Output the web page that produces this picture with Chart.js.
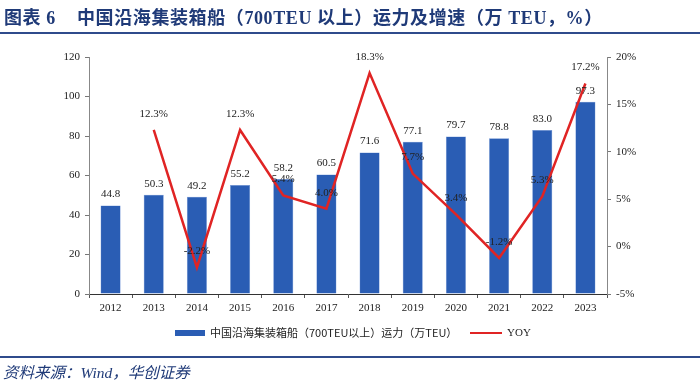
<!DOCTYPE html>
<html><head><meta charset="utf-8">
<script src="https://cdn.jsdelivr.net/npm/chart.js@4/dist/chart.umd.min.js"></script>
<style>
html,body{margin:0;padding:0;background:#fff;width:700px;height:383px;overflow:hidden;position:relative;}
#title{position:absolute;left:4px;top:3px;font-family:"Liberation Serif","Noto Sans CJK SC",serif;font-weight:bold;font-size:18px;color:#1F3A78;white-space:nowrap;letter-spacing:0.6px;}
#title span{display:inline-block;width:73px;}
#tline{position:absolute;left:0;top:32px;width:700px;height:2px;background:#2F4B8C;}
#fline{position:absolute;left:0;top:356px;width:700px;height:2px;background:#2F4B8C;}
#foot{position:absolute;left:3px;top:360px;font-family:"Liberation Serif","Noto Sans CJK SC",serif;font-style:italic;font-size:15.5px;color:#1F3A78;white-space:nowrap;}
#wrap{position:absolute;left:0;top:0;width:700px;height:383px;}
</style></head>
<body>
<div id="wrap"><canvas id="c" width="700" height="383"></canvas></div>
<div id="title"><span>图表 6</span>中国沿海集装箱船（700TEU 以上）运力及增速（万 TEU，%）</div>
<div id="tline"></div>
<div id="fline"></div>
<div id="foot">资料来源：Wind，华创证券</div>
<script>
const years = ['2012','2013','2014','2015','2016','2017','2018','2019','2020','2021','2022','2023'];
const capacity = [44.8,50.3,49.2,55.2,58.2,60.5,71.6,77.1,79.7,78.8,83.0,97.3];
const yoy = [null,12.3,-2.2,12.3,5.4,4.0,18.3,7.7,3.4,-1.2,5.3,17.2];
const barName = '中国沿海集装箱船（700TEU以上）运力（万TEU）';
const lineName = 'YOY';

const serif = '"Liberation Serif","Times New Roman",serif';

const labelPlugin = {
  id:'labels',
  afterDatasetsDraw(chart){
    const ctx = chart.ctx;
    ctx.save();
    ctx.font = '11px ' + serif;
    ctx.fillStyle = '#222';
    ctx.textAlign = 'center';
    ctx.textBaseline = 'middle';
    const mBar = chart.getDatasetMeta(1);
    mBar.data.forEach((el,i)=>{
      ctx.fillText(capacity[i].toFixed(1), el.x, el.y - 11);
    });
    const mLine = chart.getDatasetMeta(0);
    mLine.data.forEach((el,i)=>{
      if (yoy[i]===null) return;
      ctx.fillText(yoy[i].toFixed(1)+'%', el.x, el.y - 16);
    });
    // legend
    const ly = 333;
    ctx.fillStyle = '#2A5DB4';
    ctx.fillRect(175, ly-3, 30, 6);
    ctx.font = '11px "Noto Sans CJK SC",' + serif;
    ctx.fillStyle = '#222';
    ctx.textAlign = 'left';
    ctx.fillText(barName, 210, ly);
    ctx.strokeStyle = '#E02424';
    ctx.lineWidth = 2;
    ctx.beginPath(); ctx.moveTo(470, ly); ctx.lineTo(502, ly); ctx.stroke();
    ctx.font = '11px ' + serif;
    ctx.fillText(lineName, 507, ly);
    ctx.restore();
  }
};

new Chart(document.getElementById('c'), {
  data:{
    labels: years,
    datasets:[
      {type:'line', label:lineName, data:yoy, yAxisID:'y1', borderColor:'#E02424', borderWidth:2.5, pointRadius:0, tension:0, order:0, spanGaps:false},
      {type:'bar', label:barName, data:capacity, yAxisID:'y', backgroundColor:'#2A5DB4', borderColor:'#6E95D8', borderWidth:0.5, barPercentage:0.465, categoryPercentage:1, order:1}
    ]
  },
  options:{
    responsive:false, animation:false,
    layout:{padding:{top:57,left:0,right:0,bottom:0}},
    plugins:{legend:{display:false}, tooltip:{enabled:false}},
    scales:{
      x:{
        offset:true,
        grid:{display:true, drawOnChartArea:false, offset:true, tickLength:4, color:'#555'},
        border:{display:true, color:'#333', width:1},
        ticks:{font:{family:serif,size:11}, color:'#222', padding:4, maxRotation:0},
        afterFit(s){ s.height = 89; }
      },
      y:{
        position:'left', min:0, max:120,
        grid:{display:true, drawOnChartArea:false, tickLength:4, color:'#777'},
        border:{display:true, color:'#888', width:1},
        ticks:{stepSize:20, font:{family:serif,size:11}, color:'#222', padding:5},
        afterFit(s){ s.width = 89; }
      },
      y1:{
        position:'right', min:-5, max:20,
        grid:{display:true, drawOnChartArea:false, tickLength:4, color:'#777'},
        border:{display:true, color:'#888', width:1},
        ticks:{stepSize:5, font:{family:serif,size:11}, color:'#222', padding:5, callback:v=>v+'%'},
        afterFit(s){ s.width = 93; }
      }
    }
  },
  plugins:[labelPlugin]
});
</script>
</body></html>
